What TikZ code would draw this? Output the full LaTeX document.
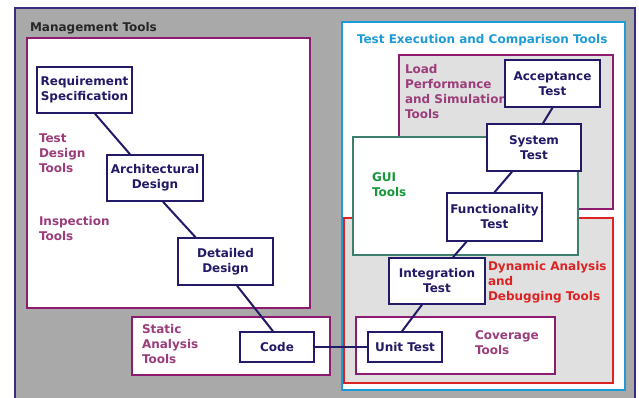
\documentclass[tikz,border=0pt]{standalone}
\usepackage{fontspec}
\setmainfont{DejaVu Sans}
\definecolor{navy}{HTML}{221A66}
\definecolor{framegray}{HTML}{A9A9A9}
\definecolor{framenavy}{HTML}{3A2C80}
\definecolor{toolpink}{HTML}{8E1B72}
\definecolor{labelpink}{HTML}{9B3D7B}
\definecolor{execblue}{HTML}{1E9BD7}
\definecolor{guiteal}{HTML}{3E7E6E}
\definecolor{guigreen}{HTML}{17983A}
\definecolor{dynred}{HTML}{DD2222}
\definecolor{panel}{HTML}{E0E0E0}

\begin{document}
\begin{tikzpicture}[x=1pt,y=-1pt,line width=2pt,
  stage/.style={draw=navy,fill=white,line width=1.5pt,inner sep=0pt,align=center,
    text=navy,font=\bfseries\fontsize{12}{15}\selectfont},
  toollabel/.style={anchor=north west,inner sep=0pt,align=left,
    font=\bfseries\fontsize{12}{15}\selectfont}]
\useasboundingbox (0,0) rectangle (639,398);
\fill[white] (0,0) rectangle (639,398);

% management frame
\fill[framegray] (15,8) rectangle (635,398);
\draw[framenavy] (15,398) -- (15,8) -- (635,8) -- (635,398);
\node[toollabel,text=black!85] (mgmt) at (29,21) {Management Tools};

% design side
\draw[toolpink,fill=white] (27,38) rectangle (310,308);
\draw[toolpink,fill=white] (132,317) rectangle (330,375);
\node[toollabel,text=labelpink] (testdesign) at (38,133) {Test\\Design\\Tools};
\node[toollabel,text=labelpink] (inspect) at (38,215) {Inspection\\Tools};
\node[toollabel,text=labelpink] (static) at (141,323) {Static\\Analysis\\Tools};

% test side
\draw[execblue,fill=white] (341.5,22) rectangle (625,390);
\node[toollabel,text=execblue] (exec) at (356,33) {Test Execution and Comparison Tools};
\draw[toolpink,fill=panel] (399,55) rectangle (613,209);
\node[toollabel,text=labelpink] (load) at (404,63) {Load\\Performance\\and Simulation\\Tools};
\draw[dynred,fill=panel] (344,218) rectangle (613,383);
\node[toollabel,text=dynred] (dyn) at (487,260) {Dynamic Analysis\\and\\Debugging Tools};
\draw[guiteal,fill=white] (353,137) rectangle (578,255);
\node[toollabel,text=guigreen] (gui) at (371,172) {GUI\\Tools};
\draw[toolpink,fill=white] (356,317) rectangle (555,374);
\node[toollabel,text=labelpink] (cover) at (474,330) {Coverage\\Tools};

% V-model stages
\node[stage,minimum width=95pt,minimum height=46pt] (req) at (84.5,90) {Requirement\\Specification};
\node[stage,minimum width=96pt,minimum height=46pt] (arch) at (155,178) {Architectural\\Design};
\node[stage,minimum width=95pt,minimum height=47pt] (detail) at (225.5,261.5) {Detailed\\Design};
\node[stage,minimum width=74pt,minimum height=30pt] (code) at (277,347) {Code};
\node[stage,minimum width=74pt,minimum height=30pt] (unit) at (405,347) {Unit Test};
\node[stage,minimum width=96pt,minimum height=46pt] (integ) at (437,281) {Integration\\Test};
\node[stage,minimum width=95pt,minimum height=48pt] (func) at (494.5,217) {Functionality\\Test};
\node[stage,minimum width=94pt,minimum height=47pt] (sys) at (534,147.5) {System\\Test};
\node[stage,minimum width=95pt,minimum height=47pt] (accept) at (552.5,83.5) {Acceptance\\Test};

\draw[navy] ([xshift=10.5pt]req.south) -- ([xshift=-25pt]arch.north);
\draw[navy] ([xshift=8pt]arch.south) -- ([xshift=-30pt]detail.north);
\draw[navy] ([xshift=11.5pt]detail.south) -- ([xshift=-4pt]code.north);
\draw[navy] (code) -- (unit);
\draw[navy] ([xshift=-3pt]unit.north) -- ([xshift=-15pt]integ.south);
\draw[navy] ([xshift=16pt]integ.north) -- ([xshift=-28pt]func.south);
\draw[navy] (func.north) -- ([xshift=-22pt]sys.south);
\draw[navy] ([xshift=9pt]sys.north) -- (accept.south);
\end{tikzpicture}
\end{document}
